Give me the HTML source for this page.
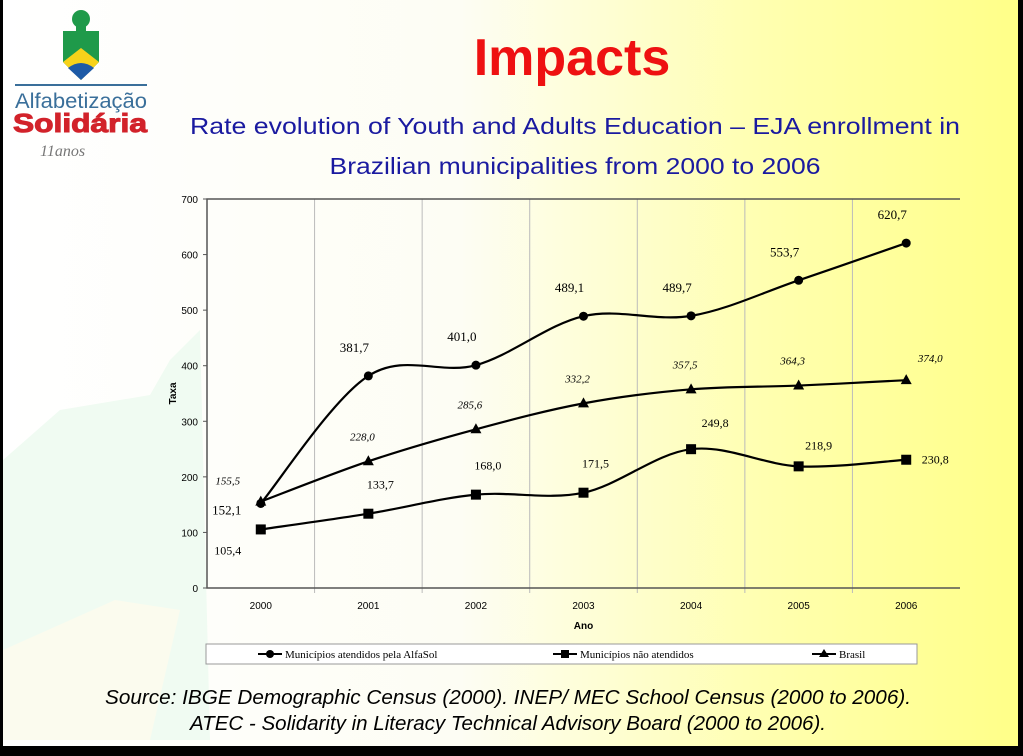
<!DOCTYPE html>
<html><head><meta charset="utf-8"><style>
html,body{margin:0;padding:0}
body{width:1023px;height:756px;position:relative;overflow:hidden;background:#000;font-family:"Liberation Sans",sans-serif}
#slide{position:absolute;left:3px;top:0;width:1015px;height:746px;background:linear-gradient(90deg,#ffffff 0%,#fdfdf4 45%,#ffffb0 75%,#ffff88 100%)}
</style></head><body>
<div id="slide"></div>
<svg width="1023" height="756" style="position:absolute;left:0;top:0">
<polygon points="3,460 60,410 150,395 170,360 200,330 210,740 3,740" fill="#f0fbf2"/>
<polygon points="3,650 115,600 180,610 150,740 3,740" fill="#fbfbee"/>
<g>
<circle cx="81" cy="19" r="9" fill="#1f9a4a"/>
<rect x="76" y="24" width="10" height="8" fill="#1f9a4a"/>
<polygon points="63,31 99,31 99,62 81,80 63,62" fill="#1f9a4a"/>
<polygon points="63,62 81,48 99,62 81,80" fill="#f7d21a"/>
<path d="M68,68 Q81,58 94,68 L81,80 Z" fill="#1d5aa6"/>
<line x1="15" y1="85" x2="147" y2="85" stroke="#3a6f9a" stroke-width="2"/>
<text x="15" y="108" font-size="21" fill="#3a6f9a" textLength="132" lengthAdjust="spacingAndGlyphs">Alfabetização</text>
<text x="13" y="132" font-size="26" font-weight="bold" fill="#d2222a" stroke="#d2222a" stroke-width="1" textLength="134" lengthAdjust="spacingAndGlyphs">Solidária</text>
<text x="40" y="156" font-size="16" font-style="italic" fill="#777" font-family="Liberation Serif, serif">11anos</text>
</g>
<text x="572" y="75" font-size="52" font-weight="bold" fill="#ee1111" text-anchor="middle">Impacts</text>
<text x="575" y="134" font-size="23" fill="#1a1aa0" text-anchor="middle" textLength="770" lengthAdjust="spacingAndGlyphs">Rate evolution of Youth and Adults Education – EJA enrollment in</text>
<text x="575" y="174" font-size="23" fill="#1a1aa0" text-anchor="middle" textLength="491" lengthAdjust="spacingAndGlyphs">Brazilian municipalities from 2000 to 2006</text>
<g id="chart"></g>
<g>
<rect x="206" y="644" width="711" height="20" fill="#fff" stroke="#999"/>
<line x1="258" y1="654" x2="282" y2="654" stroke="#000" stroke-width="2"/><circle cx="270" cy="654" r="4" fill="#000"/>
<text x="285" y="658" font-size="11" font-family="Liberation Serif, serif">Municípios atendidos pela AlfaSol</text>
<line x1="553" y1="654" x2="577" y2="654" stroke="#000" stroke-width="2"/><rect x="561" y="650" width="8" height="8" fill="#000"/>
<text x="580" y="658" font-size="11" font-family="Liberation Serif, serif">Municípios não atendidos</text>
<line x1="812" y1="654" x2="836" y2="654" stroke="#000" stroke-width="2"/><polygon points="824,649 829,657 819,657" fill="#000"/>
<text x="839" y="658" font-size="11" font-family="Liberation Serif, serif">Brasil</text>
</g>
<text x="508" y="704" font-size="20" font-style="italic" text-anchor="middle" textLength="806" lengthAdjust="spacingAndGlyphs">Source: IBGE Demographic Census (2000). INEP/ MEC School Census (2000 to 2006).</text>
<text x="508" y="730" font-size="20" font-style="italic" text-anchor="middle" textLength="636" lengthAdjust="spacingAndGlyphs">ATEC - Solidarity in Literacy Technical Advisory Board (2000 to 2006).</text>
</svg>
<script>
const categories=["2000","2001","2002","2003","2004","2005","2006"];
const alfasol=[152.1,381.7,401.0,489.1,489.7,553.7,620.7];
const naoAtendidos=[105.4,133.7,168.0,171.5,249.8,218.9,230.8];
const brasil=[155.5,228.0,285.6,332.2,357.5,364.3,374.0];
const alfasolLabels=["152,1","381,7","401,0","489,1","489,7","553,7","620,7"];
const naoLabels=["105,4","133,7","168,0","171,5","249,8","218,9","230,8"];
const brasilLabels=["155,5","228,0","285,6","332,2","357,5","364,3","374,0"];
const yTicks=[0,100,200,300,400,500,600,700];
const NS='http://www.w3.org/2000/svg';
const g=document.getElementById('chart');
const L=207,R=960,T=199,B=588,yMax=700;
const bw=(R-L)/categories.length;
const x=i=>L+bw*(i+0.5);
const y=v=>B-(v/yMax)*(B-T);
function mk(t,a,p){const e=document.createElementNS(NS,t);for(const k in a)e.setAttribute(k,a[k]);(p||g).appendChild(e);return e;}
for(let i=1;i<categories.length;i++){const gl=mk('line',{x1:L+bw*i,x2:L+bw*i,y1:T,y2:B+5,stroke:'#bbb','stroke-width':1});

}
const ax=mk('path',{d:`M${R},${T}H${L}V${B}H${R}`,fill:'none',stroke:'#555','stroke-width':1.5});


yTicks.forEach(v=>{mk('line',{x1:L-4,x2:L,y1:y(v),y2:y(v),stroke:'#555'});
const t=mk('text',{x:L-9,y:y(v)+4,'font-size':10,'text-anchor':'end'});t.textContent=v;

});
categories.forEach((c,i)=>{const t=mk('text',{x:x(i),y:B+21,'font-size':10,'text-anchor':'middle'});t.textContent=c;

});
const xt=mk('text',{x:(L+R)/2,y:B+41,'font-size':10,'font-weight':'bold','text-anchor':'middle'});xt.textContent='Ano';


const yt=mk('text',{x:0,y:0,'font-size':10,'font-weight':'bold','text-anchor':'middle',transform:`translate(176,${(T+B)/2}) rotate(-90)`});yt.textContent='Taxa';


function smooth(pts){let d=`M${pts[0][0]},${pts[0][1]}`;for(let i=0;i<pts.length-1;i++){const p0=pts[i-1]||pts[i],p1=pts[i],p2=pts[i+1],p3=pts[i+2]||p2;const c1=[p1[0]+(p2[0]-p0[0])/6,p1[1]+(p2[1]-p0[1])/6],c2=[p2[0]-(p3[0]-p1[0])/6,p2[1]-(p3[1]-p1[1])/6];d+=`C${c1[0]},${c1[1]} ${c2[0]},${c2[1]} ${p2[0]},${p2[1]}`;}return d;}
function series(vals,labels,marker,name,lab){
const pts=vals.map((v,i)=>[x(i),y(v)]);
const p=mk('path',{d:smooth(pts),fill:'none',stroke:'#000','stroke-width':2.2});


pts.forEach(([px,py],i)=>{let m;
if(marker==='c')m=mk('circle',{cx:px,cy:py,r:4.5,fill:'#000'});
else if(marker==='s')m=mk('rect',{x:px-5,y:py-5,width:10,height:10,fill:'#000'});
else m=mk('polygon',{points:`${px},${py-6} ${px+5.5},${py+4} ${px-5.5},${py+4}`,fill:'#000'});


const o=lab(i);const t=mk('text',{x:px+o[0],y:py+o[1],'font-size':o[2]||12,'font-family':'Liberation Serif, serif','text-anchor':'middle','font-style':o[3]?'italic':'normal'});t.textContent=labels[i];

});}
series(alfasol,alfasolLabels,'c','alfasol',i=>i===0?[-34,11,13]:[-14,-24,13]);
series(naoAtendidos,naoLabels,'s','nao-atendidos',i=>i===0?[-33,25]:i===6?[29,4]:i===4?[24,-22]:i===5?[20,-17]:[12,-25]);
series(brasil,brasilLabels,'t','brasil',i=>i===0?[-33,-17,11,1]:i===6?[24,-18,11,1]:[-6,-21,11,1]);
</script>
</body></html>
